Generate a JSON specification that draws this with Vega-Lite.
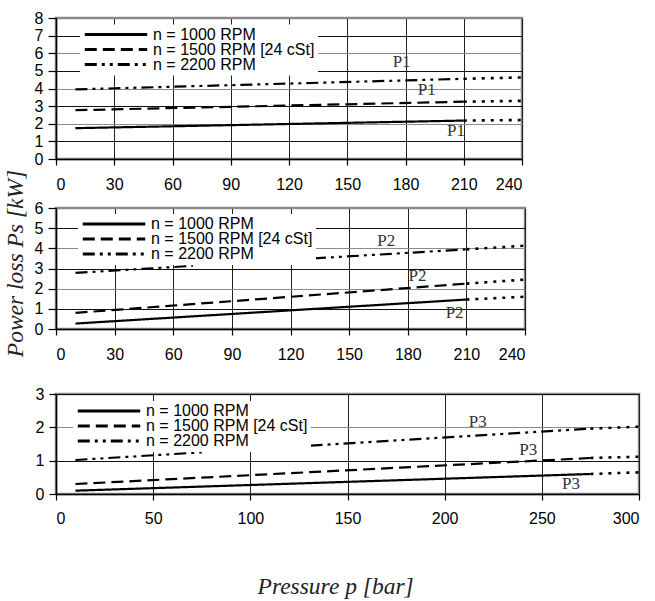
{
  "$schema": "https://vega.github.io/schema/vega-lite/v6.json",
  "background": "white",
  "padding": {"left": 1, "top": 8, "right": 0, "bottom": 5},
  "title": {"text": "Pressure p [bar]", "orient": "bottom", "anchor": "middle", "dx": 12, "font": "Liberation Serif", "fontStyle": "italic", "fontWeight": "normal", "fontSize": 23.5, "color": "#222", "offset": 48},
  "datasets": {
    "p1": [
      {"kind": "main", "series": "n = 1000 RPM", "seg": "a", "p": 10, "v": 1.75},
      {"kind": "main", "series": "n = 1000 RPM", "seg": "a", "p": 210, "v": 2.18},
      {"kind": "main", "series": "n = 1500 RPM [24 cSt]", "seg": "a", "p": 10, "v": 2.77},
      {"kind": "main", "series": "n = 1500 RPM [24 cSt]", "seg": "a", "p": 210, "v": 3.25},
      {"kind": "main", "series": "n = 2200 RPM", "seg": "a", "p": 10, "v": 3.95},
      {"kind": "main", "series": "n = 2200 RPM", "seg": "a", "p": 210, "v": 4.55},
      {"kind": "dot", "series": "n = 1000 RPM", "p": 210, "v": 2.18},
      {"kind": "dot", "series": "n = 1000 RPM", "p": 240, "v": 2.21},
      {"kind": "dot", "series": "n = 1500 RPM [24 cSt]", "p": 210, "v": 3.25},
      {"kind": "dot", "series": "n = 1500 RPM [24 cSt]", "p": 240, "v": 3.3},
      {"kind": "dot", "series": "n = 2200 RPM", "p": 210, "v": 4.55},
      {"kind": "dot", "series": "n = 2200 RPM", "p": 240, "v": 4.63},
      {"kind": "label", "label": "P1", "p": 178, "v": 5.5},
      {"kind": "label", "label": "P1", "p": 191, "v": 3.9},
      {"kind": "label", "label": "P1", "p": 206, "v": 1.6}
    ],
    "p2": [
      {"kind": "main", "series": "n = 1000 RPM", "seg": "a", "p": 10, "v": 0.27},
      {"kind": "main", "series": "n = 1000 RPM", "seg": "a", "p": 210, "v": 1.46},
      {"kind": "main", "series": "n = 1500 RPM [24 cSt]", "seg": "a", "p": 10, "v": 0.8},
      {"kind": "main", "series": "n = 1500 RPM [24 cSt]", "seg": "a", "p": 210, "v": 2.25},
      {"kind": "main", "series": "n = 2200 RPM", "seg": "a", "p": 10, "v": 2.78},
      {"kind": "main", "series": "n = 2200 RPM", "seg": "a", "p": 70, "v": 3.13},
      {"kind": "main", "series": "n = 2200 RPM", "seg": "b", "p": 132, "v": 3.5},
      {"kind": "main", "series": "n = 2200 RPM", "seg": "b", "p": 210, "v": 3.95},
      {"kind": "dot", "series": "n = 1000 RPM", "p": 210, "v": 1.46},
      {"kind": "dot", "series": "n = 1000 RPM", "p": 240, "v": 1.6},
      {"kind": "dot", "series": "n = 1500 RPM [24 cSt]", "p": 210, "v": 2.25},
      {"kind": "dot", "series": "n = 1500 RPM [24 cSt]", "p": 240, "v": 2.45},
      {"kind": "dot", "series": "n = 2200 RPM", "p": 210, "v": 3.95},
      {"kind": "dot", "series": "n = 2200 RPM", "p": 240, "v": 4.13},
      {"kind": "label", "label": "P2", "p": 169, "v": 4.35},
      {"kind": "label", "label": "P2", "p": 185, "v": 2.65},
      {"kind": "label", "label": "P2", "p": 204, "v": 0.79}
    ],
    "p3": [
      {"kind": "main", "series": "n = 1000 RPM", "seg": "a", "p": 10, "v": 0.1},
      {"kind": "main", "series": "n = 1000 RPM", "seg": "a", "p": 275, "v": 0.6},
      {"kind": "main", "series": "n = 1500 RPM [24 cSt]", "seg": "a", "p": 10, "v": 0.3},
      {"kind": "main", "series": "n = 1500 RPM [24 cSt]", "seg": "a", "p": 275, "v": 1.08},
      {"kind": "main", "series": "n = 2200 RPM", "seg": "a", "p": 10, "v": 1.02},
      {"kind": "main", "series": "n = 2200 RPM", "seg": "a", "p": 75, "v": 1.25},
      {"kind": "main", "series": "n = 2200 RPM", "seg": "b", "p": 131, "v": 1.45},
      {"kind": "main", "series": "n = 2200 RPM", "seg": "b", "p": 275, "v": 1.96},
      {"kind": "dot", "series": "n = 1000 RPM", "p": 275, "v": 0.6},
      {"kind": "dot", "series": "n = 1000 RPM", "p": 300, "v": 0.65},
      {"kind": "dot", "series": "n = 1500 RPM [24 cSt]", "p": 275, "v": 1.08},
      {"kind": "dot", "series": "n = 1500 RPM [24 cSt]", "p": 300, "v": 1.12},
      {"kind": "dot", "series": "n = 2200 RPM", "p": 275, "v": 1.96},
      {"kind": "dot", "series": "n = 2200 RPM", "p": 300, "v": 2.02},
      {"kind": "label", "label": "P3", "p": 217, "v": 2.17},
      {"kind": "label", "label": "P3", "p": 243, "v": 1.33},
      {"kind": "label", "label": "P3", "p": 265, "v": 0.3}
    ]
  },
  "spacing": -26,
  "resolve": {"scale": {"strokeDash": "independent"}, "legend": {"strokeDash": "independent"}},
  "vconcat": [
    {
      "width": 466, "height": 141,
      "data": {"name": "p1"},
      "encoding": {
        "x": {"field": "p", "type": "quantitative", "title": null, "scale": {"domain": [0, 240], "nice": false}, "axis": {"values": [0, 30, 60, 90, 120, 150, 180, 210, 240], "gridColor": "#222", "tickSize": 6, "labelPadding": 11}},
        "y": {"field": "v", "type": "quantitative", "title": null, "scale": {"domain": [0, 8], "nice": false}, "axis": {"values": [0, 1, 2, 3, 4, 5, 6, 7, 8], "gridColor": {"condition": {"test": "datum.value % 2 === 1", "value": "#111"}, "value": "#8a8a8a"}, "tickSize": 8, "labelPadding": 5}}
      },
      "layer": [
        {"transform": [{"filter": "datum.kind === 'main'"}], "mark": {"type": "line", "color": "black", "strokeWidth": 2.2},
         "encoding": {"detail": {"field": "seg"}, "strokeDash": {"field": "series", "type": "nominal", "scale": {"domain": ["n = 1000 RPM", "n = 1500 RPM [24 cSt]", "n = 2200 RPM"], "range": [[1, 0], [12, 6], [12, 5, 3, 5, 3, 5]]}, "legend": {"orient": "none", "legendX": 24, "legendY": 6.5}}}},
        {"transform": [{"filter": "datum.kind === 'dot'"}], "mark": {"type": "line", "color": "black", "strokeWidth": 2.6, "strokeDash": [3, 6]},
         "encoding": {"detail": {"field": "series"}}},
        {"transform": [{"filter": "datum.kind === 'label'"}], "mark": {"type": "text", "font": "Liberation Serif", "fontSize": 17, "color": "#333"},
         "encoding": {"text": {"field": "label"}}}
      ]
    },
    {
      "spacing": 65,
      "bounds": "flush",
      "resolve": {"scale": {"strokeDash": "independent"}, "legend": {"strokeDash": "independent"}},
      "vconcat": [
        {
          "width": 469, "height": 121,
          "data": {"name": "p2"},
          "encoding": {
            "x": {"field": "p", "type": "quantitative", "title": null, "scale": {"domain": [0, 240], "nice": false}, "axis": {"values": [0, 30, 60, 90, 120, 150, 180, 210, 240], "gridColor": "#222", "tickSize": 6, "labelPadding": 11}},
            "y": {"field": "v", "type": "quantitative", "title": "Power loss Ps [kW]", "scale": {"domain": [0, 6], "nice": false}, "axis": {"values": [0, 1, 2, 3, 4, 5, 6], "gridColor": {"condition": {"test": "datum.value % 2 === 1", "value": "#111"}, "value": "#8a8a8a"}, "tickSize": 8, "labelPadding": 5, "titleFont": "Liberation Serif", "titleFontStyle": "italic", "titleFontWeight": "normal", "titleFontSize": 23.5, "titleColor": "#222", "titlePadding": 7, "titleY": 55}}
          },
          "layer": [
            {"transform": [{"filter": "datum.kind === 'main'"}], "mark": {"type": "line", "color": "black", "strokeWidth": 2.2},
             "encoding": {"detail": {"field": "seg"}, "strokeDash": {"field": "series", "type": "nominal", "scale": {"domain": ["n = 1000 RPM", "n = 1500 RPM [24 cSt]", "n = 2200 RPM"], "range": [[1, 0], [12, 6], [12, 5, 3, 5, 3, 5]]}, "legend": {"orient": "none", "legendX": 22, "legendY": 6}}}},
            {"transform": [{"filter": "datum.kind === 'dot'"}], "mark": {"type": "line", "color": "black", "strokeWidth": 2.6, "strokeDash": [3, 6]},
             "encoding": {"detail": {"field": "series"}}},
            {"transform": [{"filter": "datum.kind === 'label'"}], "mark": {"type": "text", "font": "Liberation Serif", "fontSize": 17, "color": "#333"},
             "encoding": {"text": {"field": "label"}}}
          ]
        },
        {
          "width": 583, "height": 100,
          "data": {"name": "p3"},
          "encoding": {
            "x": {"field": "p", "type": "quantitative", "title": null, "scale": {"domain": [0, 300], "nice": false}, "axis": {"values": [0, 50, 100, 150, 200, 250, 300], "gridColor": "#222", "tickSize": 6, "labelPadding": 10}},
            "y": {"field": "v", "type": "quantitative", "title": null, "scale": {"domain": [0, 3], "nice": false}, "axis": {"values": [0, 1, 2, 3], "gridColor": {"condition": {"test": "datum.value % 2 === 1", "value": "#111"}, "value": "#8a8a8a"}, "tickSize": 7, "labelPadding": 5}}
          },
          "layer": [
            {"transform": [{"filter": "datum.kind === 'main'"}], "mark": {"type": "line", "color": "black", "strokeWidth": 2.2},
             "encoding": {"detail": {"field": "seg"}, "strokeDash": {"field": "series", "type": "nominal", "scale": {"domain": ["n = 1000 RPM", "n = 1500 RPM [24 cSt]", "n = 2200 RPM"], "range": [[1, 0], [12, 6], [12, 5, 3, 5, 3, 5]]}, "legend": {"orient": "none", "legendX": 17, "legendY": 7}}}},
            {"transform": [{"filter": "datum.kind === 'dot'"}], "mark": {"type": "line", "color": "black", "strokeWidth": 2.6, "strokeDash": [3, 6]},
             "encoding": {"detail": {"field": "series"}}},
            {"transform": [{"filter": "datum.kind === 'label'"}], "mark": {"type": "text", "font": "Liberation Serif", "fontSize": 17, "color": "#333"},
             "encoding": {"text": {"field": "label"}}}
          ]
        }
      ]
    }
  ],
  "config": {
    "view": {"stroke": "#8a8a8a", "strokeWidth": 2.5},
    "axis": {"labelFont": "Liberation Sans", "labelFontSize": 16, "labelColor": "black", "domainColor": "black", "domainWidth": 1.5, "tickColor": "black", "tickWidth": 1.2, "gridWidth": 1, "gridOpacity": 1, "grid": true},
    "legend": {"title": null, "symbolType": "stroke", "symbolSize": 3900, "symbolStrokeWidth": 3, "symbolStrokeColor": "black", "clipHeight": 14, "labelFont": "Liberation Sans", "labelFontSize": 16, "labelColor": "black", "labelLimit": 400, "labelOffset": 4, "fillColor": "white", "padding": 3, "rowPadding": -2}
  }
}
